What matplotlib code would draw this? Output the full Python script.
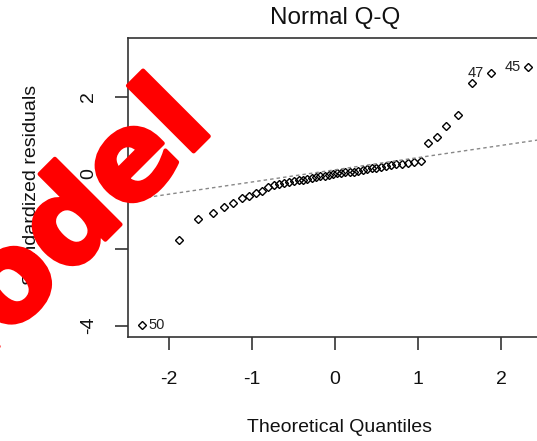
import matplotlib
matplotlib.use("Agg")
import matplotlib.pyplot as plt
import matplotlib.patheffects as pe

plt.rcParams['font.family'] = ['Liberation Sans', 'DejaVu Sans']

# theoretical normal quantiles for 50 observations
theo_q = [-2.326, -1.881, -1.645, -1.476, -1.341, -1.227, -1.126, -1.036, -0.954, -0.878,
          -0.806, -0.739, -0.674, -0.613, -0.553, -0.496, -0.440, -0.385, -0.332, -0.279,
          -0.228, -0.176, -0.126, -0.075, -0.025, 0.025, 0.075, 0.126, 0.176, 0.228,
          0.279, 0.332, 0.385, 0.440, 0.496, 0.553, 0.613, 0.674, 0.739, 0.806,
          0.878, 0.954, 1.036, 1.126, 1.227, 1.341, 1.476, 1.645, 1.881, 2.326]

# sorted standardized residuals
std_resid = [-3.98, -1.74, -1.21, -1.04, -0.88, -0.79, -0.66, -0.61, -0.53, -0.46,
             -0.37, -0.32, -0.28, -0.25, -0.23, -0.21, -0.19, -0.17, -0.14, -0.12,
             -0.10, -0.08, -0.06, -0.04, -0.02, 0.00, 0.01, 0.02, 0.03, 0.04,
             0.06, 0.09, 0.11, 0.13, 0.15, 0.17, 0.19, 0.21, 0.23, 0.25,
             0.27, 0.29, 0.33, 0.80, 0.94, 1.25, 1.54, 2.38, 2.62, 2.78]

# labelled extreme points: (index into sorted arrays, observation id)
extremes = [(0, "50"), (48, "47"), (49, "45")]

# reference line through the quartiles
line_icpt = 0.09
line_slope = 0.32

xticks = [-2, -1, 0, 1, 2]
yticks = [-4, -2, 0, 2]

fig = plt.figure(figsize=(5.37, 4.41), dpi=100)
ax = fig.add_axes([0.2384, 0.2358, 0.771, 0.678])

ax.plot(theo_q, std_resid, linestyle='none', marker='D', markersize=4.5,
        markerfacecolor='none', markeredgecolor='black', markeredgewidth=1.0)
ax.axline((0, line_icpt), slope=line_slope, color='#888888', lw=1.0,
          linestyle=(0, (2.5, 2.2)))

for i, name in extremes:
    if theo_q[i] < 0:
        ax.annotate(name, (theo_q[i], std_resid[i]), xytext=(5, 0),
                    textcoords='offset points', ha='left', va='center',
                    fontsize=10.5, color='#222222')
    else:
        ax.annotate(name, (theo_q[i], std_resid[i]), xytext=(-5, 0),
                    textcoords='offset points', ha='right', va='center',
                    fontsize=10.5, color='#222222')

ax.set_xlim(-2.494, 2.494)
ax.set_ylim(-4.30, 3.55)
ax.set_xticks(xticks)
ax.set_yticks(yticks)
ax.set_xticklabels([str(t) for t in xticks])
ax.set_yticklabels([str(t) for t in yticks], rotation=90, va='center')
ax.tick_params(direction='out', length=9.5, width=1.2, colors='#333333',
               labelcolor='#111111', labelsize=14)
ax.tick_params(axis='x', pad=15)
ax.tick_params(axis='y', pad=13)
for sp in ax.spines.values():
    sp.set_color('#333333')
    sp.set_linewidth(1.2)

ax.set_title("Normal Q-Q", fontsize=17.5, color='#111111', y=1.068, pad=0,
             va='center')
ax.set_xlabel("Theoretical Quantiles", fontsize=14, color='#111111', va='center')
ax.xaxis.set_label_coords(0.51, -0.301)
ax.set_ylabel("Standardized residuals", fontsize=14, color='#111111', va='center')
ax.yaxis.set_label_coords(-0.234, 0.51)

# watermark across the left side
fig.text(216 / 537, 1 - 129 / 441, "Model", fontsize=88, fontweight='bold',
         family='DejaVu Sans', color='red', rotation=45, rotation_mode='anchor',
         ha='right', va='baseline', zorder=10,
         path_effects=[pe.withStroke(linewidth=3, foreground='red')])

fig.savefig("out.png", dpi=100)
